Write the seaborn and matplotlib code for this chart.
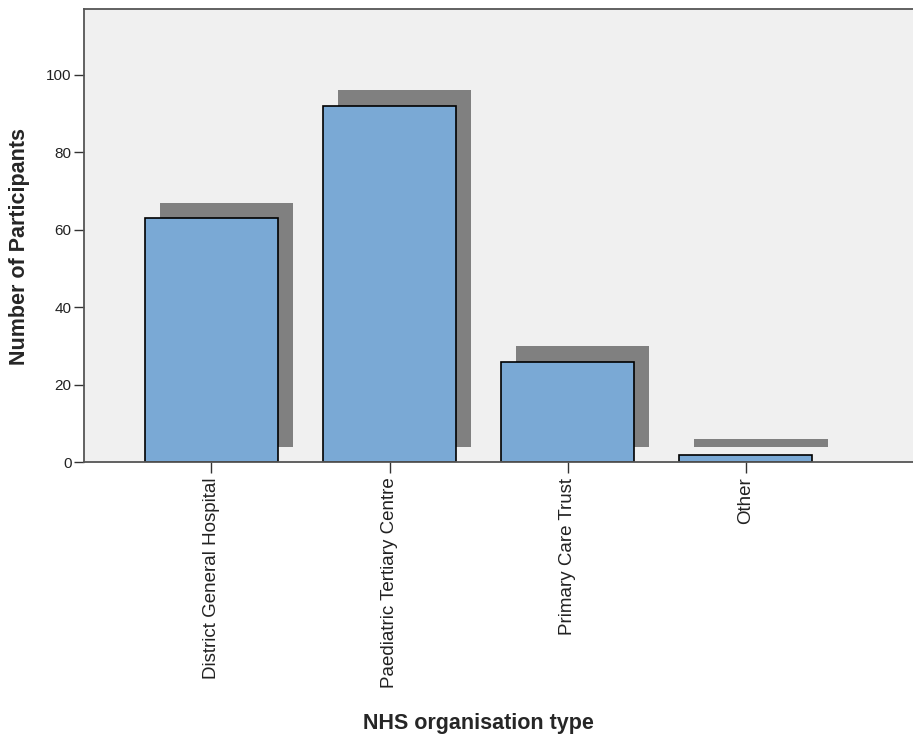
import numpy as np
import pandas as pd
import matplotlib
matplotlib.use("Agg")
import matplotlib.pyplot as plt
import seaborn as sns

categories = ["District General Hospital", "Paediatric Tertiary Centre",
              "Primary Care Trust", "Other"]
counts = [63, 92, 26, 2]
y_ticks = [0, 20, 40, 60, 80, 100]

sns.set_theme(style="white")
plt.rcParams["font.family"] = ["Liberation Sans", "DejaVu Sans"]

df = pd.DataFrame({"org": categories, "n": counts})

fig = plt.figure(figsize=(9.13, 7.42), dpi=100)
ax = fig.add_axes([0.092, 0.377, 0.908, 0.611])
ax.set_facecolor("#F0F0F0")

bar_w = 0.75
# drop shadow behind each bar, shifted up and to the right
dx, dy = 0.085, 4.0
pos = np.arange(len(categories))
ax.bar(pos + dx, np.array(counts, dtype=float), width=bar_w, bottom=dy,
       color="#808080", linewidth=0, zorder=1)

sns.barplot(data=df, x="org", y="n", ax=ax, color="#7AA9D5",
            saturation=1, width=bar_w, edgecolor="black", linewidth=1.2,
            zorder=2)

ax.set_xlim(-0.716, 3.94)
ax.set_ylim(0, 117)
ax.set_yticks(y_ticks)
ax.tick_params(axis="y", direction="out", length=7, width=1, color="#333333",
               labelsize=11, labelcolor="#222222", left=True, pad=2)
ax.tick_params(axis="x", direction="out", length=8, width=1, color="#333333",
               labelsize=13.5, labelcolor="#222222", bottom=True, pad=3)
ax.set_xticks(pos)
ax.set_xticklabels(categories, rotation=90)

for side in ["left", "bottom", "top"]:
    ax.spines[side].set_visible(True)
    ax.spines[side].set_color("#555555")
    ax.spines[side].set_linewidth(1.3)
ax.spines["right"].set_visible(False)

ax.set_xlabel("NHS organisation type", fontsize=15.5, fontweight="bold")
ax.set_ylabel("Number of Participants", fontsize=15.5, fontweight="bold")
ax.xaxis.set_label_coords(0.476, -0.552)
ax.yaxis.set_label_coords(-0.065, 0.475)

fig.savefig("out.png", dpi=100)
